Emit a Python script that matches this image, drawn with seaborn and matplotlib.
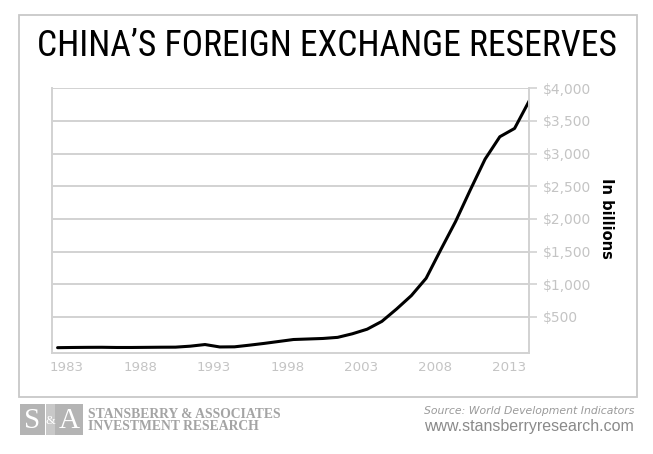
import matplotlib
matplotlib.use("Agg")
import matplotlib.pyplot as plt
from matplotlib import font_manager
import seaborn as sns
import pandas as pd
import numpy as np
from matplotlib.patches import Rectangle
from matplotlib.ticker import FuncFormatter

years = list(range(1982, 2015))
reserves = [27, 30, 32, 33, 30, 30, 32, 34, 35, 50, 75, 38, 40, 65, 92, 122,
            152, 160, 168, 185, 240, 310, 430, 620, 825, 1090, 1530, 1960,
            2445, 2915, 3258, 3385, 3810]
xtick_years = [1983, 1988, 1993, 1998, 2003, 2008, 2013]
ytick_vals = [500, 1000, 1500, 2000, 2500, 3000, 3500, 4000]

title = "CHINA\u2019S FOREIGN EXCHANGE RESERVES"
ylabel = "In billions"
source = "Source: World Development Indicators"
website = "www.stansberryresearch.com"
brand1 = "STANSBERRY & ASSOCIATES"
brand2 = "INVESTMENT RESEARCH"

df = pd.DataFrame({"year": years, "reserves": reserves})

sns.set_style("white")
plt.rcParams["font.family"] = ["DejaVu Sans"]

W, H = 653, 454
fig = plt.figure(figsize=(W / 100, H / 100), dpi=100)
L, R, T, B = 51.7, 529.3, 88.3, 352.7
ax = fig.add_axes([L / W, 1 - B / H, (R - L) / W, (B - T) / H])

sns.lineplot(data=df, x="year", y="reserves", ax=ax, color="black", linewidth=2.2)

grid_c = "#d2d2d2"
tick_c = "#c4c4c4"
ax.set_xlim(1981.6, 2014)
ax.set_ylim(-50, 4000)
ax.set_yticks(ytick_vals)
ax.set_xticks([y - 0.4 for y in xtick_years])
ax.set_xticklabels([str(y) for y in xtick_years])
ax.yaxis.set_major_formatter(FuncFormatter(lambda v, p: "${:,.0f}".format(v)))
ax.yaxis.tick_right()
ax.grid(axis="y", color=grid_c, linewidth=1.4)
ax.set_axisbelow(True)
for s in ["left", "bottom", "right"]:
    ax.spines[s].set_visible(True)
    ax.spines[s].set_color(grid_c)
    ax.spines[s].set_linewidth(1.4)
ax.spines["top"].set_visible(False)
ax.tick_params(axis="y", which="major", direction="out", length=6, width=1.2,
               color=grid_c, labelcolor=tick_c, labelsize=10, pad=4,
               right=True, left=False)
ax.tick_params(axis="x", which="major", length=0, labelcolor=tick_c,
               labelsize=9.6, pad=6)
ax.set_xlabel("")
ax.set_ylabel("")

fig.text(607 / W, 1 - 218 / H, ylabel, rotation=270, ha="center", va="center",
         fontsize=10.5, fontweight="bold", color="black")

# frame
fig.patches.append(Rectangle((19.3 / W, 1 - 396.7 / H), (637 - 19.3) / W,
                             (396.7 - 15) / H, transform=fig.transFigure,
                             fill=False, edgecolor="#c8c8c8", linewidth=1.3))

# title: pick a narrow font if available, then fit width to ~580 px
names = {f.name for f in font_manager.fontManager.ttflist}
cands = ["Liberation Sans Narrow", "DejaVu Sans Condensed", "Roboto Condensed",
         "Open Sans Condensed", "Noto Sans Condensed", "Roboto"]
tfam = next((c for c in cands if c in names), "DejaVu Sans")
stretch = "normal"
if tfam == "Roboto":
    if any(f.name == "Roboto" and f.stretch == "condensed"
           for f in font_manager.fontManager.ttflist):
        stretch = "condensed"
ttl = fig.text(327 / W, 1 - 46 / H, title, ha="center", va="center",
               fontsize=26, family=[tfam, "DejaVu Sans"], fontstretch=stretch,
               color="black")
fig.canvas.draw()
wpx = ttl.get_window_extent(fig.canvas.get_renderer()).width
ttl.set_fontsize(min(34, 26 * 580 / wpx))

# footer logo
logo_c = "#b4b4b4"
fig.patches.append(Rectangle((20 / W, 1 - 435 / H), (45 - 20) / W, 30.7 / H,
                             transform=fig.transFigure, color=logo_c, lw=0))
fig.patches.append(Rectangle((45.5 / W, 1 - 435 / H), (54.5 - 45.5) / W, 30.7 / H,
                             transform=fig.transFigure, color="#c8c8c8", lw=0))
fig.patches.append(Rectangle((55 / W, 1 - 435 / H), (82.7 - 55) / W, 30.7 / H,
                             transform=fig.transFigure, color=logo_c, lw=0))
fig.text(32.5 / W, 1 - 420.5 / H, "S", ha="center", va="center", color="white",
         fontsize=21, family=["Liberation Serif"])
fig.text(50 / W, 1 - 421 / H, "&", ha="center", va="center", color="white",
         fontsize=9, family=["Liberation Serif"])
fig.text(69 / W, 1 - 420.5 / H, "A", ha="center", va="center", color="white",
         fontsize=21, family=["Liberation Serif"])
fig.text(88.3 / W, 1 - 415 / H, brand1, ha="left", va="center", color="#a4a4a4",
         fontsize=9.8, fontweight="bold", family=["Liberation Serif"])
fig.text(88.3 / W, 1 - 427 / H, brand2, ha="left", va="center", color="#a4a4a4",
         fontsize=9.8, fontweight="bold", family=["Liberation Serif"])

fig.text(634 / W, 1 - 410.5 / H, source, ha="right", va="center", color="#9a9a9a",
         fontsize=7.8, style="italic")
fig.text(634 / W, 1 - 427 / H, website, ha="right", va="center", color="#8a8a8a",
         fontsize=11.5, family=["Liberation Sans"])

fig.savefig("out.png", dpi=100)
